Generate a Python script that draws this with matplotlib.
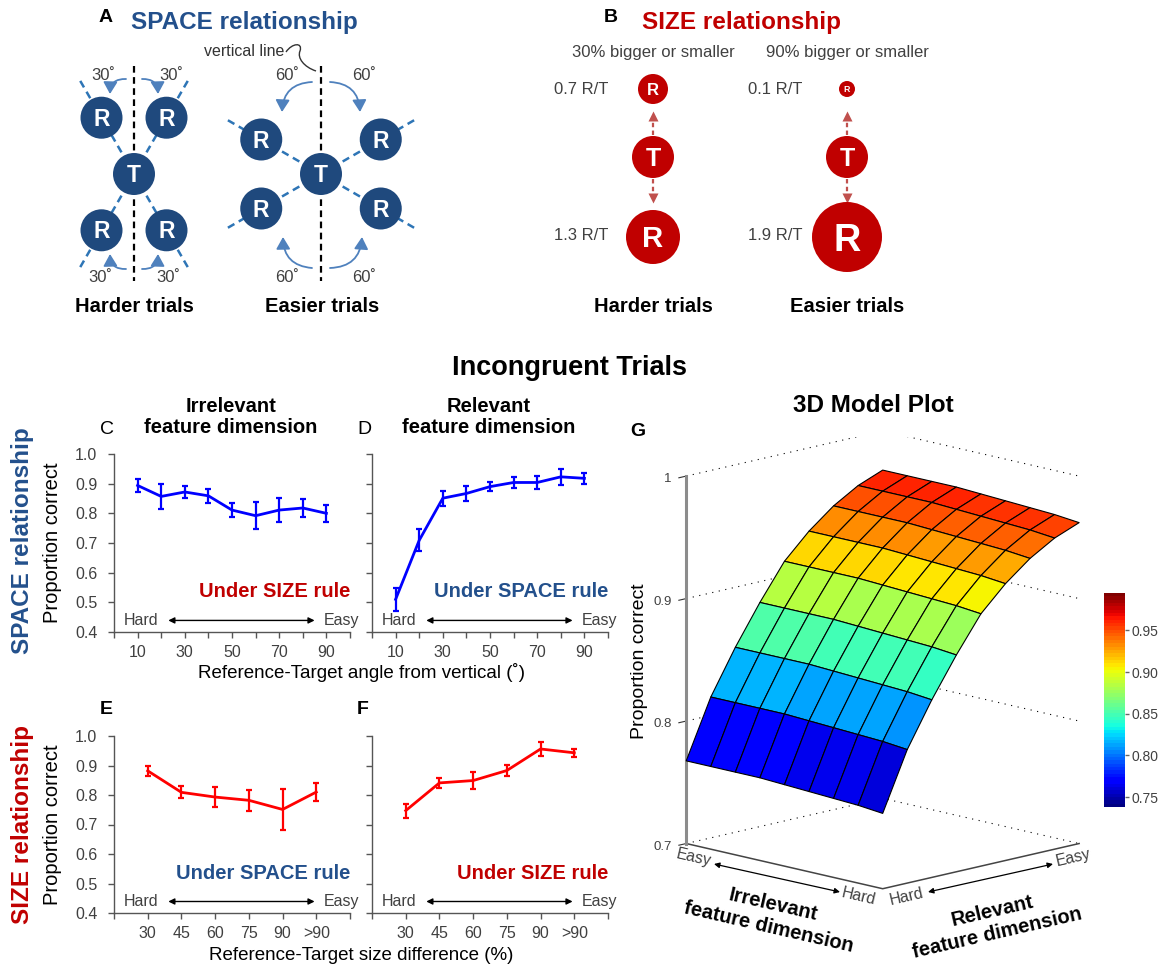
import numpy as np
import matplotlib
matplotlib.use("Agg")
import matplotlib.pyplot as plt
import matplotlib.patches as patches
from matplotlib.path import Path
from matplotlib import colors, cm
from mpl_toolkits.mplot3d import proj3d

W, H = 1171, 968
plt.rcParams['font.family'] = ['Liberation Sans', 'DejaVu Sans']
plt.rcParams['axes3d.automargin'] = False

SPACE_BLUE = '#23508c'
TOKEN_BLUE = '#1f497d'
SIZE_RED = '#c00000'
ARROW_BLUE = '#4f81bd'
DASH_BLUE = '#2e75b6'
ARROW_RED = '#c0504d'
GRAY_TEXT = '#404040'
AXIS_GRAY = '#555555'

# Panels C/D: proportion correct by reference-target angle (deg)
angles = [10, 20, 30, 40, 50, 60, 70, 80, 90]
angle_labelled = [10, 30, 50, 70, 90]
angle_minor = [0, 20, 40, 60, 80, 100]
space_irr_mean = [0.894, 0.857, 0.872, 0.859, 0.811, 0.792, 0.811, 0.818, 0.800]
space_irr_err = [0.022, 0.042, 0.021, 0.023, 0.025, 0.045, 0.039, 0.031, 0.028]
space_rel_mean = [0.510, 0.709, 0.851, 0.867, 0.890, 0.904, 0.904, 0.923, 0.918]
space_rel_err = [0.038, 0.037, 0.025, 0.025, 0.016, 0.018, 0.021, 0.027, 0.018]

# Panels E/F: proportion correct by reference-target size difference (%)
size_labels = ['30', '45', '60', '75', '90', '>90']
size_irr_mean = [0.882, 0.809, 0.793, 0.782, 0.751, 0.810]
size_irr_err = [0.017, 0.020, 0.033, 0.035, 0.069, 0.031]
size_rel_mean = [0.747, 0.841, 0.849, 0.883, 0.956, 0.943]
size_rel_err = [0.024, 0.016, 0.030, 0.020, 0.025, 0.014]

# Panel G: model surface on a 9 x 9 grid of difficulty levels (0 = hard, 8 = easy)
relevant_profile = [0.7615, 0.809, 0.845, 0.877, 0.906, 0.926, 0.942, 0.954, 0.962]
irrelevant_offset = [0.000, 0.002, 0.003, 0.004, 0.005, 0.006, 0.006, 0.006, 0.006]
model_zticks = [0.7, 0.8, 0.9, 1.0]
model_zticklabels = ['0.7', '0.8', '0.9', '1']
cbar_range = (0.738, 0.995)
cbar_ticks = [0.75, 0.80, 0.85, 0.90, 0.95]

# Panel A/B stimulus geometry
space_angles = {'hard': 30, 'easy': 60}
size_ratio_labels = {'hard': ('0.7 R/T', '1.3 R/T'), 'easy': ('0.1 R/T', '1.9 R/T')}
size_radii = {'hard': (15, 21, 27), 'easy': (8, 21, 35)}


def px_rect(x0, y0, x1, y1):
    return [x0 / W, 1 - y1 / H, (x1 - x0) / W, (y1 - y0) / H]


fig = plt.figure(figsize=(W / 100, H / 100), dpi=100)


def double_arrow(ax, p0, p1, transform, lw=1, ms=9):
    ax.add_patch(patches.FancyArrowPatch(p0, p1, arrowstyle='<|-|>', color='black', lw=lw,
                                         mutation_scale=ms, shrinkA=0, shrinkB=0,
                                         transform=transform))


def line_panel(rect, x, mean, err, color, xlim, ticks, ticklabels, minor, ylabels=True):
    ax = fig.add_axes(px_rect(*rect))
    ax.errorbar(x, mean, yerr=err, color=color, lw=2, elinewidth=1.6,
                capsize=2, capthick=1.6, clip_on=False)
    ax.set_xlim(*xlim)
    ax.set_ylim(0.4, 1.0)
    yt = np.arange(0.4, 1.01, 0.1)
    ax.set_yticks(yt)
    if ylabels:
        ax.set_yticklabels([f'{v:.1f}' for v in yt])
    else:
        ax.tick_params(axis='y', labelleft=False)
    ax.set_xticks(ticks)
    ax.set_xticklabels(ticklabels)
    ax.set_xticks(minor, minor=True)
    for s in ['top', 'right']:
        ax.spines[s].set_visible(False)
    for s in ['left', 'bottom']:
        ax.spines[s].set_color(AXIS_GRAY)
        ax.spines[s].set_linewidth(1)
    ax.tick_params(which='both', direction='out', length=4.5, width=1, color=AXIS_GRAY,
                   labelsize=11.5, labelcolor=GRAY_TEXT)
    ax.tick_params(axis='y', pad=7.5)
    ax.tick_params(axis='x', pad=5)
    ax.patch.set_alpha(0)
    # hard/easy direction cue along the bottom
    ax.text(0.04, 0.065, 'Hard', transform=ax.transAxes, fontsize=11.5,
            color=GRAY_TEXT, ha='left', va='center')
    ax.text(1.04, 0.065, 'Easy', transform=ax.transAxes, fontsize=11.5,
            color=GRAY_TEXT, ha='right', va='center')
    double_arrow(ax, (0.23, 0.065), (0.85, 0.065), ax.transAxes)
    return ax


size_pos = np.arange(1, len(size_labels) + 1)
size_minor = [0, len(size_labels) + 1]

axC = line_panel((114, 454, 350, 632), angles, space_irr_mean, space_irr_err, 'blue',
                 (0, 100), angle_labelled, [str(a) for a in angle_labelled], angle_minor)
axD = line_panel((372, 454, 608, 632), angles, space_rel_mean, space_rel_err, 'blue',
                 (0, 100), angle_labelled, [str(a) for a in angle_labelled], angle_minor,
                 ylabels=False)
axE = line_panel((114, 736, 350, 913), size_pos, size_irr_mean, size_irr_err, 'red',
                 (0, len(size_labels) + 1), size_pos, size_labels, size_minor)
axF = line_panel((372, 736, 608, 913), size_pos, size_rel_mean, size_rel_err, 'red',
                 (0, len(size_labels) + 1), size_pos, size_labels, size_minor, ylabels=False)

for ax, note, col in [(axC, 'Under SIZE rule', SIZE_RED), (axD, 'Under SPACE rule', SPACE_BLUE),
                      (axE, 'Under SPACE rule', SPACE_BLUE), (axF, 'Under SIZE rule', SIZE_RED)]:
    ax.text(1.0, 0.225, note, transform=ax.transAxes, fontsize=14.5, fontweight='bold',
            color=col, ha='right', va='center')

# 3D model surface
ax3 = fig.add_axes(px_rect(647.5, 437, 1105.5, 895), projection='3d', computed_zorder=False)
ax3.set_proj_type('ortho')
ax3.view_init(elev=13.3, azim=-135)
ax3.set_box_aspect((1, 1, 1.359), zoom=1.155)
ax3.set_xlim(0, 8)
ax3.set_ylim(0, 8)
ax3.set_zlim(0.7, 1.0)
ax3.set_axis_off()
ax3.patch.set_alpha(0)

rel = np.arange(len(relevant_profile))
irr = np.arange(len(irrelevant_offset))
X, Y = np.meshgrid(rel, irr)
Z = np.add.outer(np.array(irrelevant_offset), np.array(relevant_profile))
norm = colors.Normalize(*cbar_range)
jet = plt.get_cmap('jet', 64)
face = jet(norm(Z))

xmax, ymax = rel[-1], irr[-1]
for z in model_zticks:
    ax3.plot([0, xmax, xmax], [ymax, ymax, 0], [z, z, z], color='black', lw=0.8,
             ls=(0, (1, 5)), zorder=1)
    ax3.plot([0, -0.3], [ymax, ymax], [z, z], color='#333333', lw=0.8, zorder=2)
ax3.plot([0, 0, xmax], [ymax, 0, 0], [0.7, 0.7, 0.7], color='#444444', lw=1.1, zorder=2)
ax3.plot([0, 0], [ymax, ymax], [0.7, 1.0], color='#8c8c8c', lw=2.2, zorder=2)
ax3.plot_surface(X, Y, Z, facecolors=face, shade=False, edgecolor='black', linewidth=0.8,
                 rstride=1, cstride=1, antialiased=True, zorder=3)

# z tick labels: project the tick anchors once and place them as 2D text
proj = ax3.get_proj()
for z, lab in zip(model_zticks, model_zticklabels):
    tx, ty, _ = proj3d.proj_transform(-0.6, ymax, z, proj)
    ax3.text2D(tx, ty, lab, transform=ax3.transData, ha='right', va='center',
               fontsize=9.5, color=GRAY_TEXT)

cax = fig.add_axes(px_rect(1104, 593, 1125, 807))
cb = fig.colorbar(cm.ScalarMappable(norm=norm, cmap=jet), cax=cax, ticks=cbar_ticks)
cb.outline.set_visible(False)
cb.ax.set_yticklabels([f'{t:.2f}' for t in cbar_ticks])
cb.ax.tick_params(length=3, width=1, color='#666666', labelsize=10, pad=2, labelcolor=GRAY_TEXT)

# overlay in pixel coordinates for diagrams and free text
ov = fig.add_axes([0, 0, 1, 1])
ov.set_xlim(0, W)
ov.set_ylim(H, 0)
ov.axis('off')


def token(x, y, r, letter, face_col, fsize):
    ov.add_patch(patches.Circle((x, y), r, facecolor=face_col, edgecolor='none', zorder=3))
    ov.text(x, y + 0.358 * fsize * 100 / 72, letter, color='white', fontsize=fsize,
            fontweight='bold', ha='center', va='baseline', zorder=4)


def curved(p0, p1, rad, color, ms=12):
    ov.add_patch(patches.FancyArrowPatch(p0, p1, connectionstyle=f'arc3,rad={rad}',
                                         arrowstyle='-|>,head_length=0.6,head_width=0.35',
                                         mutation_scale=ms, color=color, lw=1.3,
                                         shrinkA=0, shrinkB=0, zorder=2))


# Panel A: SPACE relationship
for cx, key in [(134, 'hard'), (321, 'easy')]:
    ang = np.deg2rad(space_angles[key])
    dist = 65 if key == 'hard' else 69
    cy = 174
    ov.plot([cx, cx], [66, 281], color='black', lw=1.6, ls=(0, (3, 2)), zorder=1)
    for sx in (-1, 1):
        for sy in (-1, 1):
            ov.plot([cx, cx + sx * 108 * np.sin(ang)], [cy, cy + sy * 108 * np.cos(ang)],
                    color=DASH_BLUE, lw=1.8, ls=(0, (3, 2)), zorder=1)
            token(cx + sx * dist * np.sin(ang), cy + sy * dist * np.cos(ang), 21, 'R',
                  TOKEN_BLUE, 16.5)
    token(cx, cy, 21, 'T', TOKEN_BLUE, 16.5)

curved((126, 79), (110, 94), 0.5, ARROW_BLUE)
curved((142, 79), (158, 94), -0.5, ARROW_BLUE)
curved((126, 269), (110, 254), -0.5, ARROW_BLUE)
curved((142, 269), (158, 254), 0.5, ARROW_BLUE)
curved((312, 82), (282, 112), 0.45, ARROW_BLUE)
curved((330, 82), (360, 112), -0.45, ARROW_BLUE)
curved((312, 268), (283, 237), -0.45, ARROW_BLUE)
curved((330, 268), (362, 237), 0.45, ARROW_BLUE)

for (x, y) in [(103, 75), (171, 75), (100, 277), (168, 277)]:
    ov.text(x, y, f"{space_angles['hard']}\u02da", fontsize=12, color=GRAY_TEXT,
            ha='center', va='center')
for (x, y) in [(287, 75), (364, 75), (287, 277), (364, 277)]:
    ov.text(x, y, f"{space_angles['easy']}\u02da", fontsize=12, color=GRAY_TEXT,
            ha='center', va='center')

ov.text(244, 52, 'vertical line', fontsize=11.5, color='#333333', ha='center', va='center')
squiggle = Path([(286, 52), (292, 43), (303, 42), (300, 51), (297, 58), (304, 67), (316, 71)],
                [Path.MOVETO, Path.CURVE4, Path.CURVE4, Path.CURVE4,
                 Path.CURVE4, Path.CURVE4, Path.CURVE4])
ov.add_patch(patches.PathPatch(squiggle, facecolor='none', edgecolor='#333333', lw=1))

ov.text(106, 17, 'A', fontsize=14, fontweight='bold', ha='center', va='center')
ov.text(244, 23, 'SPACE relationship', fontsize=17.5, fontweight='bold', color=SPACE_BLUE,
        ha='center', va='center')
ov.text(134.5, 307, 'Harder trials', fontsize=14.5, fontweight='bold', ha='center', va='center')
ov.text(322, 307, 'Easier trials', fontsize=14.5, fontweight='bold', ha='center', va='center')

# Panel B: SIZE relationship
ov.text(611, 17, 'B', fontsize=14, fontweight='bold', ha='center', va='center')
ov.text(741, 23, 'SIZE relationship', fontsize=17.5, fontweight='bold', color=SIZE_RED,
        ha='center', va='center')
for cx, key, head in [(653, 'hard', '30% bigger or smaller'), (847, 'easy', '90% bigger or smaller')]:
    r_small, r_t, r_big = size_radii[key]
    ov.text(cx, 52, head, fontsize=12, color=GRAY_TEXT, ha='center', va='center')
    token(cx, 89, r_small, 'R', SIZE_RED, r_small * 0.8)
    token(cx, 157, r_t, 'T', SIZE_RED, 18)
    token(cx, 237, r_big, 'R', SIZE_RED, r_big * 0.78)
    ov.plot([cx, cx], [135, 119], color=ARROW_RED, lw=1.6, ls=(0, (2, 1.5)))
    ov.plot([cx], [116], marker='^', ms=7, color=ARROW_RED, mec='none')
    ov.plot([cx, cx], [179, 195], color=ARROW_RED, lw=1.6, ls=(0, (2, 1.5)))
    ov.plot([cx], [198], marker='v', ms=7, color=ARROW_RED, mec='none')
    lo, hi = size_ratio_labels[key]
    ov.text(cx - 72, 89, lo, fontsize=12, color=GRAY_TEXT, ha='center', va='center')
    ov.text(cx - 72, 236, hi, fontsize=12, color=GRAY_TEXT, ha='center', va='center')
ov.text(653.5, 307, 'Harder trials', fontsize=14.5, fontweight='bold', ha='center', va='center')
ov.text(847.5, 307, 'Easier trials', fontsize=14.5, fontweight='bold', ha='center', va='center')

# line panels: titles and labels
ov.text(570, 368, 'Incongruent Trials', fontsize=19.5, fontweight='bold', ha='center', va='center')
ov.text(231, 417, 'Irrelevant\nfeature dimension', fontsize=14.5, fontweight='bold',
        ha='center', va='center', linespacing=1.15)
ov.text(489, 417, 'Relevant\nfeature dimension', fontsize=14.5, fontweight='bold',
        ha='center', va='center', linespacing=1.15)
ov.text(107, 430, 'C', fontsize=14, ha='center', va='center')
ov.text(364, 430, 'D', fontsize=14, ha='center', va='center')
ov.text(106, 710, 'E', fontsize=14, fontweight='bold', ha='center', va='center')
ov.text(363, 710, 'F', fontsize=14, fontweight='bold', ha='center', va='center')
ov.text(53, 543, 'Proportion correct', fontsize=14.5, rotation=90, ha='center', va='center')
ov.text(53, 825, 'Proportion correct', fontsize=14.5, rotation=90, ha='center', va='center')
ov.text(23, 541, 'SPACE relationship', fontsize=17.5, fontweight='bold', color=SPACE_BLUE,
        rotation=90, ha='center', va='center')
ov.text(23, 824, 'SIZE relationship', fontsize=17.5, fontweight='bold', color=SIZE_RED,
        rotation=90, ha='center', va='center')
ov.text(361, 673, 'Reference-Target angle from vertical (\u02da)', fontsize=13.5,
        ha='center', va='center')
ov.text(361, 955, 'Reference-Target size difference (%)', fontsize=13.5,
        ha='center', va='center')

# 3D panel labels
ov.text(873.5, 406, '3D Model Plot', fontsize=17.5, fontweight='bold', ha='center', va='center')
ov.text(637.5, 432, 'G', fontsize=14, fontweight='bold', ha='center', va='center')
ov.text(639, 661, 'Proportion correct', fontsize=14, rotation=90, ha='center', va='center')
ov.text(694, 858, 'Easy', fontsize=11.5, rotation=-13, color=GRAY_TEXT, ha='center', va='center')
ov.text(858.5, 897, 'Hard', fontsize=11.5, rotation=-13, color=GRAY_TEXT, ha='center', va='center')
ov.text(907, 897, 'Hard', fontsize=11.5, rotation=13, color=GRAY_TEXT, ha='center', va='center')
ov.text(1073, 858, 'Easy', fontsize=11.5, rotation=13, color=GRAY_TEXT, ha='center', va='center')
double_arrow(ov, (714, 864), (840, 892), ov.transData, lw=0.9, ms=8)
double_arrow(ov, (928, 892), (1053, 864), ov.transData, lw=0.9, ms=8)
ov.text(771, 916, 'Irrelevant\nfeature dimension', fontsize=14.5, fontweight='bold',
        rotation=-13, rotation_mode='anchor', ha='center', va='center', linespacing=1.2)
ov.text(995, 922, 'Relevant\nfeature dimension', fontsize=14.5, fontweight='bold',
        rotation=13, rotation_mode='anchor', ha='center', va='center', linespacing=1.2)

fig.savefig('out.png', dpi=100)
